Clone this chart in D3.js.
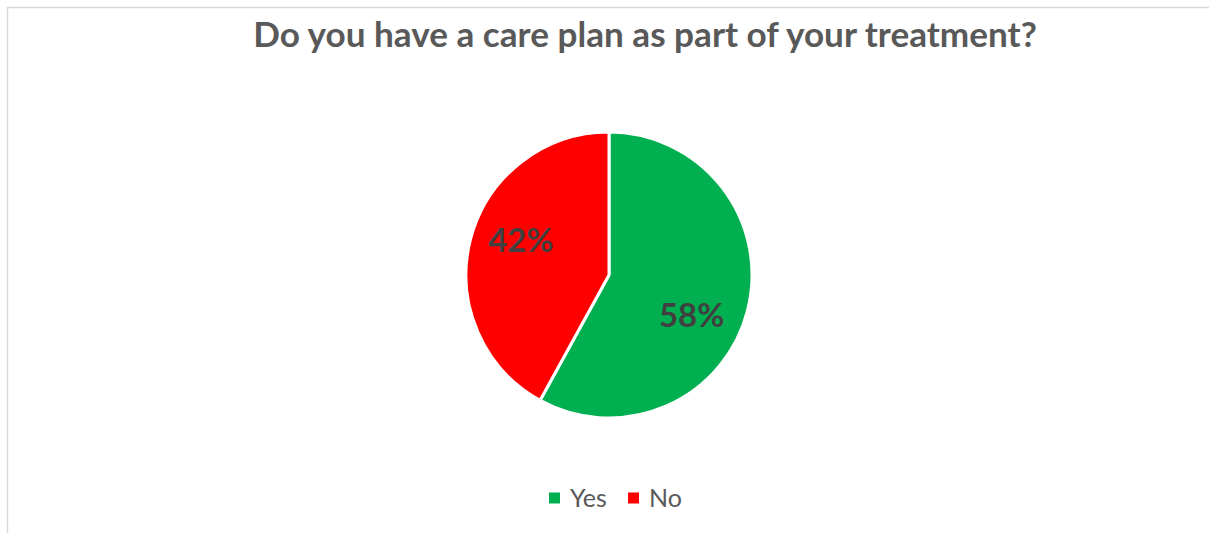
<!DOCTYPE html>
<html>
<head>
<meta charset="utf-8">
<script src="https://cdn.jsdelivr.net/npm/d3@7"></script>
<style>
  body { margin: 0; background: #fff; }
  text { font-family: Lato, "Open Sans", sans-serif; }
</style>
</head>
<body>
<div id="chart-area"></div>
<script>
// Chart data
let title = "Do you have a care plan as part of your treatment?";
let categories = ["Yes", "No"];
let values = [0.58, 0.42];
let colors = ["#00B050", "#FF0000"];

let width = 1209, height = 533;
let svg = d3.select("#chart-area").append("svg")
    .attr("width", width)
    .attr("height", height);

// chart border
svg.append("rect")
    .attr("x", 7.5).attr("y", 7.5)
    .attr("width", width + 10).attr("height", height + 10)
    .attr("fill", "none")
    .attr("stroke", "#d9d9d9")
    .attr("stroke-width", 1.5);

// title
let titleText = svg.append("text")
    .attr("x", 645)
    .attr("y", 47)
    .attr("text-anchor", "middle")
    .attr("fill", "#595959")
    .style("font-weight", "bold")
    .style("font-size", "30px")
    .text(title);
// fit title width to reference
let tw = titleText.node().getComputedTextLength();
titleText.style("font-size", (30 * 784 / tw) + "px");

// pie
let cx = 609, cy = 275, radius = 143;
let pie = d3.pie().sort(null).value(d => d);
let arc = d3.arc().innerRadius(0).outerRadius(radius);
let labelArc = d3.arc().innerRadius(radius * 0.62).outerRadius(radius * 0.62);

let g = svg.append("g").attr("transform", "translate(" + cx + "," + cy + ")");
let arcs = pie(values);

g.selectAll("path")
    .data(arcs)
    .enter()
    .append("path")
    .attr("d", arc)
    .attr("fill", (d, i) => colors[i])
    .attr("stroke", "#fff")
    .attr("stroke-width", 3)
    .attr("stroke-linejoin", "round");

g.selectAll(".label")
    .data(arcs)
    .enter()
    .append("text")
    .attr("class", "label")
    .attr("transform", d => "translate(" + labelArc.centroid(d) + ")")
    .attr("dx", (d, i) => i === 0 ? "-0.1em" : "-0.07em")
    .attr("dy", (d, i) => i === 0 ? "0.9em" : "-0.02em")
    .attr("text-anchor", "middle")
    .attr("fill", "#404040")
    .style("font-weight", "bold")
    .style("font-size", "33px")
    .text(d => d3.format(".0%")(d.data));

// legend
let legend = svg.append("g").attr("transform", "translate(549,498)");
let legendX = d3.scaleOrdinal().domain(categories).range([0, 79]);
let items = legend.selectAll("g")
    .data(categories)
    .enter()
    .append("g")
    .attr("transform", d => "translate(" + legendX(d) + ",0)");
items.append("rect")
    .attr("x", 0).attr("y", -5.5)
    .attr("width", 11).attr("height", 11)
    .attr("fill", (d, i) => colors[i]);
items.append("text")
    .attr("x", 21)
    .attr("y", 8.5)
    .attr("fill", "#595959")
    .style("font-size", "25px")
    .text(d => d);
</script>
</body>
</html>
